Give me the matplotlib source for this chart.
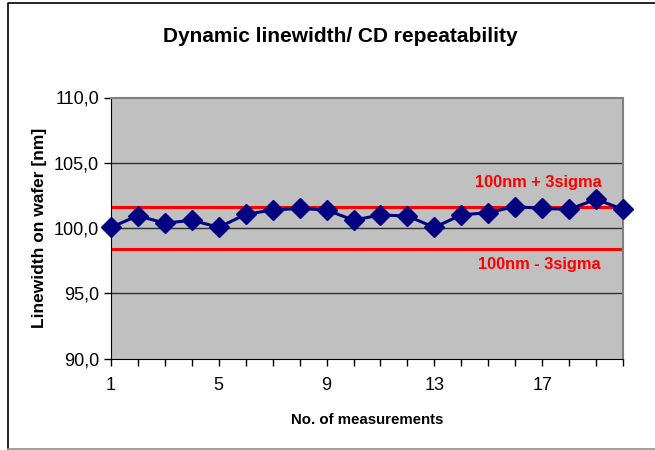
import matplotlib.pyplot as plt
from matplotlib.lines import Line2D
from matplotlib.ticker import FixedLocator, FuncFormatter

# measured linewidth on wafer [nm], one value per measurement
measurements = list(range(1, 21))
linewidth = [100.05, 100.95, 100.36, 100.6, 100.05, 101.05, 101.38, 101.5, 101.38, 100.6,
             101.0, 100.92, 100.05, 101.0, 101.18, 101.64, 101.5, 101.43, 102.2, 101.43]
upper_limit = 101.64
lower_limit = 98.36
x_tick_labels = [1, 5, 9, 13, 17]
y_ticks = [90, 95, 100, 105, 110]

plt.rcParams['font.family'] = ['Liberation Sans', 'DejaVu Sans']

W, H = 655, 450
fig = plt.figure(figsize=(W / 100, H / 100), dpi=100)
ax = fig.add_axes([111 / W, 1 - 358.5 / H, 512 / W, 261 / H])

# outer chart border (top/left black, bottom grey)
fig.lines.append(Line2D([8 / W, 8 / W, 1.0], [1 - 448.5 / H, 1 - 3 / H, 1 - 3 / H],
                        transform=fig.transFigure, color='black', linewidth=1.2))
fig.lines.append(Line2D([8 / W, 1.0], [1 - 448.5 / H, 1 - 448.5 / H],
                        transform=fig.transFigure, color='#909090', linewidth=1.2))

ax.set_facecolor('#C0C0C0')
ax.set_xlim(1, 20)
ax.set_ylim(90, 110)

for y in y_ticks[1:-1]:
    ax.axhline(y, color='#303030', linewidth=1, zorder=1)

ax.axhline(upper_limit, color='#FF0000', linewidth=2.2, zorder=2)
ax.axhline(lower_limit, color='#FF0000', linewidth=2.2, zorder=2)

ax.plot(measurements, linewidth, color='#000080', linewidth=2.2, marker='D',
        markersize=10, clip_on=False, zorder=3)

fig.text(538 / W, 1 - 182 / H, '100nm + 3sigma', color='#FF0000', fontsize=11.8,
         fontweight='bold', ha='center', va='center')
fig.text(539 / W, 1 - 264 / H, '100nm - 3sigma', color='#FF0000', fontsize=11.8,
         fontweight='bold', ha='center', va='center')

ax.set_yticks(y_ticks)
ax.yaxis.set_major_formatter(FuncFormatter(lambda v, p: f'{v:.1f}'.replace('.', ',')))
ax.xaxis.set_major_locator(FixedLocator(measurements))
ax.xaxis.set_major_formatter(FuncFormatter(lambda v, p: str(int(v)) if int(v) in x_tick_labels else ''))
ax.tick_params(axis='both', direction='out', length=5, width=1, labelsize=13)
ax.tick_params(axis='x', pad=8)

for side in ['top', 'right']:
    ax.spines[side].set_color('#808080')
    ax.spines[side].set_linewidth(1.5)
for side in ['left', 'bottom']:
    ax.spines[side].set_color('black')

ax.set_xlabel('No. of measurements', fontsize=10.8, fontweight='bold', labelpad=14)
ax.set_ylabel('Linewidth on wafer [nm]', fontsize=12.5, fontweight='bold', labelpad=5)
fig.text(340 / W, 1 - 37 / H, 'Dynamic linewidth/ CD repeatability', fontsize=15,
         fontweight='bold', ha='center', va='center')

fig.savefig('out.png', dpi=100)
